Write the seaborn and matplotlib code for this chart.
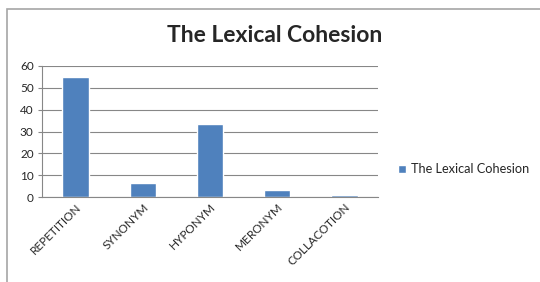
import matplotlib
matplotlib.use("Agg")
import matplotlib.pyplot as plt
import seaborn as sns
import pandas as pd
from matplotlib.patches import Rectangle

# Data
categories = ['REPETITION', 'SYNONYM', 'HYPONYM', 'MERONYM', 'COLLACOTION']
values = [55, 6.2, 33.3, 3.1, 0.8]
series_name = 'The Lexical Cohesion'

df = pd.DataFrame({'Category': categories, 'Count': values})

sns.set_style('white')
plt.rcParams['font.family'] = ['Lato', 'DejaVu Sans']

fig = plt.figure(figsize=(5.4, 2.82), dpi=100)
ax = fig.add_axes([42/540, 1 - 197/282, 336/540, 131/282])

sns.barplot(x='Category', y='Count', data=df, color='#4F81BD',
            width=0.39, ax=ax, saturation=1, label=series_name)

ax.set_ylim(0, 60)
ax.set_xlim(-0.5, 4.5)
ax.set_yticks(range(0, 61, 10))
ax.yaxis.grid(True, color='#878787', linewidth=0.8)
ax.set_axisbelow(True)
ax.set_xlabel('')
ax.set_ylabel('')
for s in ['top', 'right']:
    ax.spines[s].set_visible(False)
ax.spines['left'].set_color('#878787')
ax.spines['bottom'].set_color('#878787')
ax.spines['left'].set_linewidth(0.8)
ax.spines['bottom'].set_linewidth(0.8)
ax.tick_params(axis='y', labelsize=8.5, length=3, color='#878787', left=True, pad=3)
ax.tick_params(axis='x', labelsize=8.5, length=0, pad=3)
plt.setp(ax.get_xticklabels(), rotation=45, ha='right', rotation_mode='anchor')

fig.text(275/540, 1 - 35/282, 'The Lexical Cohesion', ha='center', va='center',
         fontsize=16.5, fontweight='bold')

ax.legend(loc='center left', bbox_to_anchor=(1.025, 0.21), frameon=False,
          fontsize=9.2, handlelength=0.6, handleheight=0.6, handletextpad=0.4)

# outer chart frame
fig.patches.append(Rectangle((7/540, -0.1), 1.2, 1 - 9/282 + 0.1,
                             transform=fig.transFigure, fill=False,
                             edgecolor='#A6A6A6', linewidth=1.2))

fig.savefig('out.png', dpi=100)
